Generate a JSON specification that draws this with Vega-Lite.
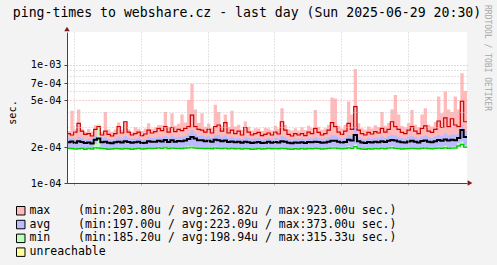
{
  "$schema": "https://vega.github.io/schema/vega-lite/v6.json",
  "width": 400,
  "height": 151,
  "autosize": {"type": "none"},
  "padding": {"left": 67, "top": 32, "right": 30, "bottom": 82},
  "background": "#f3f3f3",
  "config": {"view": {"fill": "white", "stroke": null}, "font": "DejaVu Sans Mono"},
  "title": {
    "text": "ping-times to webshare.cz - last day (Sun 2025-06-29 20:30)",
    "font": "DejaVu Sans Mono",
    "fontSize": 13.2,
    "fontWeight": "normal",
    "color": "black",
    "anchor": "middle",
    "frame": "group",
    "dx": -20,
    "offset": -25.5,
    "baseline": "alphabetic"
  },
  "data": {
    "format": {"parse": {"t": "utc:'%Y-%m-%d %H:%M'"}},
    "values": [
      {"t":"2025-06-28 20:34","maxhi":276,"max":262,"avghi":238,"avg":221,"min":197,"minhi":200},
      {"t":"2025-06-28 20:46","maxhi":410,"max":255,"avghi":240,"avg":225,"min":196,"minhi":199},
      {"t":"2025-06-28 20:58","maxhi":285,"max":270,"avghi":236,"avg":219,"min":194,"minhi":197},
      {"t":"2025-06-28 21:10","maxhi":420,"max":320,"avghi":245,"avg":226,"min":195,"minhi":199},
      {"t":"2025-06-28 21:22","maxhi":288,"max":275,"avghi":240,"avg":222,"min":197,"minhi":201},
      {"t":"2025-06-28 21:34","maxhi":272,"max":258,"avghi":233,"avg":218,"min":193,"minhi":197},
      {"t":"2025-06-28 21:46","maxhi":286,"max":262,"avghi":236,"avg":220,"min":196,"minhi":199},
      {"t":"2025-06-28 21:58","maxhi":272,"max":250,"avghi":232,"avg":216,"min":194,"minhi":198},
      {"t":"2025-06-28 22:10","maxhi":308,"max":285,"avghi":250,"avg":232,"min":199,"minhi":215},
      {"t":"2025-06-28 22:22","maxhi":310,"max":300,"avghi":262,"avg":238,"min":198,"minhi":315},
      {"t":"2025-06-28 22:34","maxhi":272,"max":255,"avghi":240,"avg":221,"min":196,"minhi":200},
      {"t":"2025-06-28 22:46","maxhi":400,"max":275,"avghi":244,"avg":223,"min":195,"minhi":199},
      {"t":"2025-06-28 22:58","maxhi":284,"max":258,"avghi":236,"avg":219,"min":193,"minhi":196},
      {"t":"2025-06-28 23:10","maxhi":272,"max":250,"avghi":232,"avg":217,"min":194,"minhi":198},
      {"t":"2025-06-28 23:22","maxhi":284,"max":262,"avghi":238,"avg":221,"min":196,"minhi":199},
      {"t":"2025-06-28 23:34","maxhi":325,"max":300,"avghi":246,"avg":224,"min":195,"minhi":199},
      {"t":"2025-06-28 23:46","maxhi":282,"max":265,"avghi":238,"avg":220,"min":194,"minhi":198},
      {"t":"2025-06-28 23:58","maxhi":335,"max":330,"avghi":250,"avg":226,"min":196,"minhi":200},
      {"t":"2025-06-29 00:10","maxhi":285,"max":270,"avghi":240,"avg":222,"min":195,"minhi":198},
      {"t":"2025-06-29 00:22","maxhi":272,"max":255,"avghi":236,"avg":219,"min":193,"minhi":197},
      {"t":"2025-06-29 00:34","maxhi":296,"max":262,"avghi":238,"avg":221,"min":195,"minhi":199},
      {"t":"2025-06-29 00:46","maxhi":288,"max":270,"avghi":242,"avg":224,"min":197,"minhi":201},
      {"t":"2025-06-29 00:58","maxhi":276,"max":252,"avghi":234,"avg":218,"min":194,"minhi":198},
      {"t":"2025-06-29 01:10","maxhi":290,"max":260,"avghi":236,"avg":219,"min":195,"minhi":198},
      {"t":"2025-06-29 01:22","maxhi":320,"max":280,"avghi":245,"avg":226,"min":197,"minhi":202},
      {"t":"2025-06-29 01:34","maxhi":288,"max":265,"avghi":240,"avg":223,"min":196,"minhi":200},
      {"t":"2025-06-29 01:46","maxhi":296,"max":272,"avghi":242,"avg":224,"min":197,"minhi":201},
      {"t":"2025-06-29 01:58","maxhi":310,"max":290,"avghi":248,"avg":228,"min":199,"minhi":204},
      {"t":"2025-06-29 02:10","maxhi":309,"max":278,"avghi":244,"avg":225,"min":197,"minhi":201},
      {"t":"2025-06-29 02:22","maxhi":400,"max":300,"avghi":250,"avg":231,"min":200,"minhi":205},
      {"t":"2025-06-29 02:34","maxhi":300,"max":270,"avghi":242,"avg":222,"min":196,"minhi":200},
      {"t":"2025-06-29 02:46","maxhi":390,"max":295,"avghi":252,"avg":230,"min":198,"minhi":203},
      {"t":"2025-06-29 02:58","maxhi":306,"max":272,"avghi":244,"avg":224,"min":197,"minhi":201},
      {"t":"2025-06-29 03:10","maxhi":318,"max":285,"avghi":248,"avg":227,"min":197,"minhi":202},
      {"t":"2025-06-29 03:22","maxhi":380,"max":278,"avghi":246,"avg":226,"min":196,"minhi":200},
      {"t":"2025-06-29 03:34","maxhi":325,"max":290,"avghi":250,"avg":229,"min":198,"minhi":203},
      {"t":"2025-06-29 03:46","maxhi":505,"max":300,"avghi":260,"avg":236,"min":199,"minhi":205},
      {"t":"2025-06-29 03:58","maxhi":690,"max":375,"avghi":280,"avg":245,"min":200,"minhi":207},
      {"t":"2025-06-29 04:10","maxhi":420,"max":300,"avghi":262,"avg":238,"min":198,"minhi":203},
      {"t":"2025-06-29 04:22","maxhi":322,"max":285,"avghi":250,"avg":230,"min":197,"minhi":201},
      {"t":"2025-06-29 04:34","maxhi":390,"max":280,"avghi":252,"avg":230,"min":197,"minhi":201},
      {"t":"2025-06-29 04:46","maxhi":300,"max":270,"avghi":246,"avg":226,"min":196,"minhi":200},
      {"t":"2025-06-29 04:58","maxhi":318,"max":285,"avghi":250,"avg":228,"min":197,"minhi":201},
      {"t":"2025-06-29 05:10","maxhi":292,"max":265,"avghi":242,"avg":223,"min":195,"minhi":199},
      {"t":"2025-06-29 05:22","maxhi":460,"max":300,"avghi":255,"avg":232,"min":198,"minhi":204},
      {"t":"2025-06-29 05:34","maxhi":400,"max":310,"avghi":258,"avg":230,"min":197,"minhi":202},
      {"t":"2025-06-29 05:46","maxhi":302,"max":275,"avghi":246,"avg":226,"min":196,"minhi":200},
      {"t":"2025-06-29 05:58","maxhi":380,"max":325,"avghi":252,"avg":229,"min":198,"minhi":203},
      {"t":"2025-06-29 06:10","maxhi":298,"max":265,"avghi":240,"avg":222,"min":195,"minhi":199},
      {"t":"2025-06-29 06:22","maxhi":410,"max":280,"avghi":245,"avg":225,"min":197,"minhi":201},
      {"t":"2025-06-29 06:34","maxhi":301,"max":262,"avghi":240,"avg":221,"min":195,"minhi":198},
      {"t":"2025-06-29 06:46","maxhi":312,"max":275,"avghi":242,"avg":223,"min":196,"minhi":200},
      {"t":"2025-06-29 06:58","maxhi":282,"max":255,"avghi":236,"avg":219,"min":194,"minhi":198},
      {"t":"2025-06-29 07:10","maxhi":332,"max":295,"avghi":244,"avg":224,"min":196,"minhi":200},
      {"t":"2025-06-29 07:22","maxhi":300,"max":270,"avghi":240,"avg":221,"min":195,"minhi":199},
      {"t":"2025-06-29 07:34","maxhi":278,"max":255,"avghi":236,"avg":218,"min":193,"minhi":197},
      {"t":"2025-06-29 07:46","maxhi":291,"max":262,"avghi":238,"avg":220,"min":194,"minhi":198},
      {"t":"2025-06-29 07:58","maxhi":289,"max":268,"avghi":240,"avg":222,"min":196,"minhi":200},
      {"t":"2025-06-29 08:10","maxhi":276,"max":252,"avghi":234,"avg":218,"min":194,"minhi":198},
      {"t":"2025-06-29 08:22","maxhi":294,"max":258,"avghi":236,"avg":219,"min":195,"minhi":199},
      {"t":"2025-06-29 08:34","maxhi":290,"max":265,"avghi":240,"avg":223,"min":197,"minhi":202},
      {"t":"2025-06-29 08:46","maxhi":278,"max":255,"avghi":236,"avg":219,"min":195,"minhi":198},
      {"t":"2025-06-29 08:58","maxhi":305,"max":270,"avghi":242,"avg":222,"min":196,"minhi":200},
      {"t":"2025-06-29 09:10","maxhi":290,"max":260,"avghi":238,"avg":220,"min":195,"minhi":199},
      {"t":"2025-06-29 09:22","maxhi":430,"max":330,"avghi":250,"avg":226,"min":197,"minhi":203},
      {"t":"2025-06-29 09:34","maxhi":310,"max":280,"avghi":244,"avg":223,"min":196,"minhi":200},
      {"t":"2025-06-29 09:46","maxhi":284,"max":258,"avghi":236,"avg":219,"min":194,"minhi":198},
      {"t":"2025-06-29 09:58","maxhi":278,"max":250,"avghi":234,"avg":217,"min":193,"minhi":197},
      {"t":"2025-06-29 10:10","maxhi":291,"max":262,"avghi":238,"avg":220,"min":195,"minhi":199},
      {"t":"2025-06-29 10:22","maxhi":278,"max":255,"avghi":236,"avg":219,"min":194,"minhi":198},
      {"t":"2025-06-29 10:34","maxhi":296,"max":262,"avghi":238,"avg":221,"min":196,"minhi":200},
      {"t":"2025-06-29 10:46","maxhi":281,"max":252,"avghi":234,"avg":218,"min":194,"minhi":198},
      {"t":"2025-06-29 10:58","maxhi":305,"max":270,"avghi":240,"avg":222,"min":196,"minhi":200},
      {"t":"2025-06-29 11:10","maxhi":291,"max":262,"avghi":238,"avg":221,"min":195,"minhi":199},
      {"t":"2025-06-29 11:22","maxhi":415,"max":290,"avghi":244,"avg":224,"min":197,"minhi":202},
      {"t":"2025-06-29 11:34","maxhi":299,"max":268,"avghi":240,"avg":222,"min":196,"minhi":200},
      {"t":"2025-06-29 11:46","maxhi":282,"max":255,"avghi":236,"avg":219,"min":194,"minhi":198},
      {"t":"2025-06-29 11:58","maxhi":291,"max":262,"avghi":238,"avg":220,"min":195,"minhi":199},
      {"t":"2025-06-29 12:10","maxhi":310,"max":280,"avghi":245,"avg":224,"min":197,"minhi":202},
      {"t":"2025-06-29 12:22","maxhi":530,"max":325,"avghi":254,"avg":228,"min":198,"minhi":204},
      {"t":"2025-06-29 12:34","maxhi":520,"max":300,"avghi":252,"avg":228,"min":198,"minhi":203},
      {"t":"2025-06-29 12:46","maxhi":305,"max":270,"avghi":244,"avg":224,"min":196,"minhi":200},
      {"t":"2025-06-29 12:58","maxhi":289,"max":258,"avghi":238,"avg":220,"min":195,"minhi":199},
      {"t":"2025-06-29 13:10","maxhi":312,"max":275,"avghi":242,"avg":222,"min":196,"minhi":200},
      {"t":"2025-06-29 13:22","maxhi":490,"max":320,"avghi":256,"avg":232,"min":199,"minhi":206},
      {"t":"2025-06-29 13:34","maxhi":380,"max":285,"avghi":250,"avg":229,"min":197,"minhi":202},
      {"t":"2025-06-29 13:46","maxhi":923,"max":443,"avghi":300,"avg":255,"min":203,"minhi":212},
      {"t":"2025-06-29 13:58","maxhi":320,"max":280,"avghi":246,"avg":226,"min":196,"minhi":201},
      {"t":"2025-06-29 14:10","maxhi":291,"max":262,"avghi":238,"avg":220,"min":194,"minhi":198},
      {"t":"2025-06-29 14:22","maxhi":282,"max":255,"avghi":236,"avg":218,"min":193,"minhi":197},
      {"t":"2025-06-29 14:34","maxhi":301,"max":268,"avghi":240,"avg":222,"min":195,"minhi":199},
      {"t":"2025-06-29 14:46","maxhi":290,"max":260,"avghi":238,"avg":220,"min":194,"minhi":198},
      {"t":"2025-06-29 14:58","maxhi":308,"max":272,"avghi":242,"avg":223,"min":196,"minhi":200},
      {"t":"2025-06-29 15:10","maxhi":298,"max":265,"avghi":240,"avg":221,"min":195,"minhi":199},
      {"t":"2025-06-29 15:22","maxhi":400,"max":290,"avghi":248,"avg":226,"min":197,"minhi":202},
      {"t":"2025-06-29 15:34","maxhi":305,"max":270,"avghi":242,"avg":222,"min":195,"minhi":199},
      {"t":"2025-06-29 15:46","maxhi":322,"max":285,"avghi":250,"avg":228,"min":198,"minhi":203},
      {"t":"2025-06-29 15:58","maxhi":420,"max":330,"avghi":256,"avg":231,"min":199,"minhi":205},
      {"t":"2025-06-29 16:10","maxhi":557,"max":300,"avghi":252,"avg":229,"min":197,"minhi":202},
      {"t":"2025-06-29 16:22","maxhi":380,"max":285,"avghi":246,"avg":225,"min":196,"minhi":201},
      {"t":"2025-06-29 16:34","maxhi":304,"max":268,"avghi":240,"avg":221,"min":194,"minhi":198},
      {"t":"2025-06-29 16:46","maxhi":296,"max":262,"avghi":238,"avg":220,"min":195,"minhi":199},
      {"t":"2025-06-29 16:58","maxhi":320,"max":280,"avghi":246,"avg":225,"min":196,"minhi":201},
      {"t":"2025-06-29 17:10","maxhi":416,"max":300,"avghi":250,"avg":228,"min":197,"minhi":202},
      {"t":"2025-06-29 17:22","maxhi":312,"max":275,"avghi":244,"avg":223,"min":196,"minhi":200},
      {"t":"2025-06-29 17:34","maxhi":296,"max":262,"avghi":238,"avg":220,"min":195,"minhi":199},
      {"t":"2025-06-29 17:46","maxhi":380,"max":290,"avghi":248,"avg":227,"min":197,"minhi":202},
      {"t":"2025-06-29 17:58","maxhi":430,"max":305,"avghi":252,"avg":229,"min":198,"minhi":203},
      {"t":"2025-06-29 18:10","maxhi":312,"max":275,"avghi":244,"avg":224,"min":196,"minhi":200},
      {"t":"2025-06-29 18:22","maxhi":301,"max":268,"avghi":240,"avg":221,"min":195,"minhi":199},
      {"t":"2025-06-29 18:34","maxhi":328,"max":285,"avghi":248,"avg":226,"min":197,"minhi":202},
      {"t":"2025-06-29 18:46","maxhi":540,"max":335,"avghi":256,"avg":231,"min":198,"minhi":204},
      {"t":"2025-06-29 18:58","maxhi":390,"max":295,"avghi":250,"avg":228,"min":197,"minhi":202},
      {"t":"2025-06-29 19:10","maxhi":595,"max":356,"avghi":262,"avg":234,"min":199,"minhi":206},
      {"t":"2025-06-29 19:22","maxhi":420,"max":300,"avghi":252,"avg":229,"min":197,"minhi":202},
      {"t":"2025-06-29 19:34","maxhi":400,"max":350,"avghi":258,"avg":232,"min":198,"minhi":204},
      {"t":"2025-06-29 19:46","maxhi":540,"max":310,"avghi":256,"avg":230,"min":198,"minhi":203},
      {"t":"2025-06-29 19:58","maxhi":420,"max":300,"avghi":262,"avg":240,"min":206,"minhi":218},
      {"t":"2025-06-29 20:10","maxhi":850,"max":494,"avghi":310,"avg":281,"min":212,"minhi":225},
      {"t":"2025-06-29 20:22","maxhi":600,"max":330,"avghi":275,"avg":245,"min":201,"minhi":208},
      {"t":"2025-06-29 20:34","maxhi":600,"max":330,"avghi":275,"avg":245,"min":201,"minhi":208}
    ]
  },
  "layer": [
    {
      "mark": {"type": "area", "interpolate": "step-after", "opacity": 1},
      "encoding": {
        "x": {
          "field": "t", "type": "temporal",
          "scale": {"type": "utc", "domain": [1751142840000, 1751229240000]},
          "axis": {
            "orient": "bottom", "zindex": 1,
            "values": {"expr": "sequence(1751144400000, 1751227200001, 3600000)"},
            "labelExpr": "(+datum.value) % 43200000 == 0 ? utcFormat(datum.value, '%a %H:%M') : ''",
            "labelFont": "DejaVu Sans Mono", "labelFontSize": 10.2, "labelColor": "black", "labelPadding": 3,
            "labelFlush": false, "labelOverlap": false,
            "grid": true, "gridDash": [1, 2],
            "gridColor": {"condition": {"test": "(+datum.value) % 21600000 == 0", "value": "#f0a0a0"}, "value": "#c8c8c8"},
            "ticks": true,
            "tickColor": {"condition": {"test": "(+datum.value) % 21600000 == 0", "value": "#e07070"}, "value": "#b8b8b8"},
            "tickSize": 2,
            "domain": true, "domainColor": "#444444", "domainWidth": 1,
            "title": "RRDTOOL / TOBI OETIKER", "titleAngle": 90, "titleX": 417.5, "titleY": -125.5, "titleFontSize": 8,
            "titleFont": "DejaVu Sans Mono", "titleFontWeight": "normal", "titleColor": "#a8a8a8", "titleAlign": "center", "titleBaseline": "alphabetic"
          }
        },
        "y": {
          "field": "maxhi", "type": "quantitative",
          "scale": {"type": "log", "domain": [100, 1900], "nice": false},
          "axis": {
            "orient": "left", "zindex": 1,
            "values": [100, 200, 300, 400, 500, 600, 700, 800, 900, 1000],
            "labelExpr": "datum.value == 100 ? '1e-04' : datum.value == 200 ? '2e-04' : datum.value == 500 ? '5e-04' : datum.value == 700 ? '7e-04' : datum.value == 1000 ? '1e-03' : ''",
            "labelFont": "DejaVu Sans Mono", "labelFontSize": 10.2, "labelColor": "black", "labelPadding": 3,
            "grid": true, "gridDash": [1, 2],
            "gridColor": {"condition": {"test": "datum.value == 200 || datum.value == 500 || datum.value == 700 || datum.value == 1000", "value": "#f0a0a0"}, "value": "#c8c8c8"},
            "ticks": true, "tickSize": 3,
            "tickColor": {"condition": {"test": "datum.value == 100 || datum.value == 200 || datum.value == 500 || datum.value == 700 || datum.value == 1000", "value": "#444444"}, "value": "rgba(0,0,0,0)"},
            "domain": true, "domainColor": "#444444", "domainWidth": 1,
            "title": "sec.", "titleX": -52, "titleY": 80, "titleAngle": -90, "titleFont": "DejaVu Sans Mono", "titleFontSize": 10.2,
            "titleFontWeight": "normal", "titleColor": "black", "titleAlign": "center", "titleBaseline": "alphabetic"
          }
        },
        "y2": {"field": "min"},
        "fill": {
          "datum": "max", "type": "nominal",
          "scale": {"domain": ["max", "avg", "min", "unreachable"], "range": ["#ffbbbb", "#bbbbff", "#bbffbb", "#ffff99"]},
          "legend": {
            "orient": "none", "legendX": -52, "legendY": 173, "title": null, "direction": "vertical",
            "symbolType": "square", "symbolSize": 72, "symbolStrokeColor": "black", "symbolStrokeWidth": 1, "symbolOpacity": 1,
            "labelFont": "DejaVu Sans Mono", "labelFontSize": 11.5, "labelColor": "black", "labelLimit": 600, "labelOffset": 3,
            "rowPadding": 0.8, "padding": 0, "offset": 0,
            "labelExpr": "datum.label == 'max' ? 'max\u00a0\u00a0\u00a0\u00a0(min:203.80u / avg:262.82u / max:923.00u sec.)' : datum.label == 'avg' ? 'avg\u00a0\u00a0\u00a0\u00a0(min:197.00u / avg:223.09u / max:373.00u sec.)' : datum.label == 'min' ? 'min\u00a0\u00a0\u00a0\u00a0(min:185.20u / avg:198.94u / max:315.33u sec.)' : 'unreachable'"
          }
        }
      }
    },
    {
      "mark": {"type": "area", "interpolate": "step-after", "opacity": 1},
      "encoding": {
        "x": {"field": "t", "type": "temporal"},
        "y": {"field": "avghi", "type": "quantitative"},
        "y2": {"field": "min"},
        "fill": {"datum": "avg", "type": "nominal"}
      }
    },
    {
      "mark": {"type": "area", "interpolate": "step-after", "opacity": 1},
      "encoding": {
        "x": {"field": "t", "type": "temporal"},
        "y": {"field": "minhi", "type": "quantitative"},
        "y2": {"field": "min"},
        "fill": {"datum": "min", "type": "nominal"}
      }
    },
    {
      "mark": {"type": "line", "interpolate": "step-after", "color": "#cc0000", "strokeWidth": 1.2},
      "encoding": {
        "x": {"field": "t", "type": "temporal"},
        "y": {"field": "max", "type": "quantitative"}
      }
    },
    {
      "mark": {"type": "line", "interpolate": "step-after", "color": "#000000", "strokeWidth": 2},
      "encoding": {
        "x": {"field": "t", "type": "temporal"},
        "y": {"field": "avg", "type": "quantitative"}
      }
    },
    {
      "mark": {"type": "line", "interpolate": "step-after", "color": "#00cc00", "strokeWidth": 1.5},
      "encoding": {
        "x": {"field": "t", "type": "temporal"},
        "y": {"field": "min", "type": "quantitative"}
      }
    },
    {
      "data": {"values": [{"end": "x"}]},
      "mark": {"type": "point", "shape": "triangle-right", "filled": true, "color": "#7a1a1a", "size": 30, "opacity": 1, "xOffset": 3},
      "encoding": {
        "x": {"datum": 1751229240000, "type": "temporal"},
        "y": {"datum": 100, "type": "quantitative"}
      }
    },
    {
      "data": {"values": [{"end": "y"}]},
      "mark": {"type": "point", "shape": "triangle-up", "filled": true, "color": "#7a1a1a", "size": 30, "opacity": 1, "yOffset": -3},
      "encoding": {
        "x": {"datum": 1751142840000, "type": "temporal"},
        "y": {"datum": 1900, "type": "quantitative"}
      }
    }
  ]
}
